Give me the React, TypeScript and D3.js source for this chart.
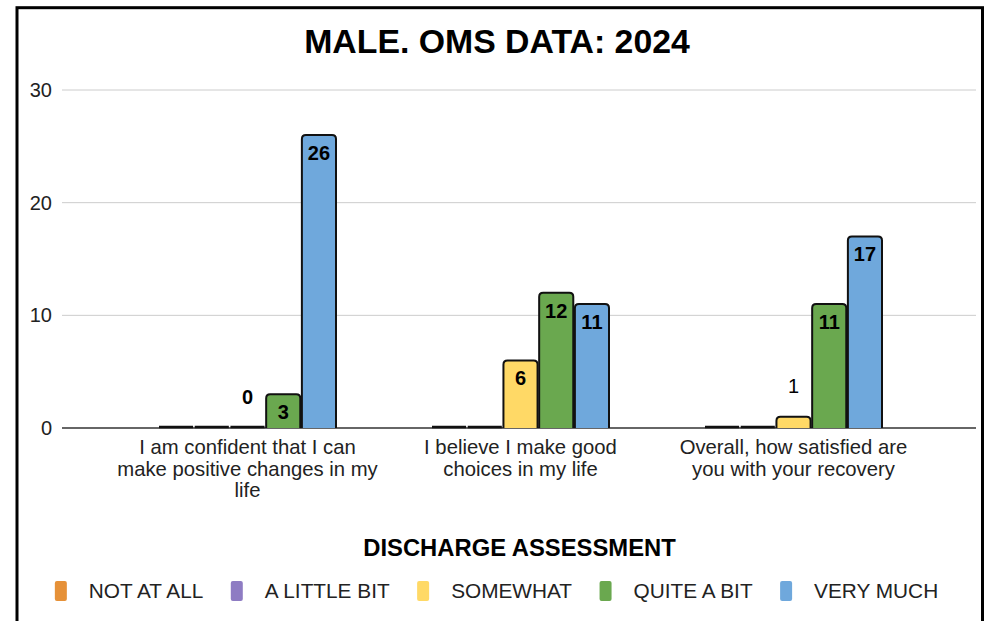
import React, { useEffect, useRef } from "react";
import * as d3 from "d3";

const title = "MALE. OMS DATA: 2024";
const legendTitle = "DISCHARGE ASSESSMENT";
const categories = [
  ["I am confident that I can", "make positive changes in my", "life"],
  ["I believe I make good", "choices in my life"],
  ["Overall, how satisfied are", "you with your recovery"],
];
const seriesNames = ["NOT AT ALL", "A LITTLE BIT", "SOMEWHAT", "QUITE A BIT", "VERY MUCH"];
const seriesColors = ["#E69138", "#8E7CC3", "#FFD966", "#6AA84F", "#6FA8DC"];
const notAtAll = [0, 0, 0];
const aLittleBit = [0, 0, 0];
const somewhat = [0, 6, 1];
const quiteABit = [3, 12, 11];
const veryMuch = [26, 11, 17];
const seriesValues = [notAtAll, aLittleBit, somewhat, quiteABit, veryMuch];
// which zero values carry a visible label
const zeroLabelShown = [
  [false, false, false],
  [false, false, false],
  [true, false, false],
  [false, false, false],
  [false, false, false],
];
const yTicks = [0, 10, 20, 30];

const W = 984;
const H = 621;
const FONT = "'Liberation Sans', Arial, sans-serif";

export default function App() {
  const ref = useRef<SVGSVGElement>(null);

  useEffect(() => {
    const svg = d3.select(ref.current);
    svg.selectAll("*").remove();

    svg.append("rect").attr("width", W).attr("height", H).attr("fill", "#fff");

    // frame
    svg
      .append("rect")
      .attr("x", 17)
      .attr("y", 7.7)
      .attr("width", 965.5)
      .attr("height", 720)
      .attr("fill", "none")
      .attr("stroke", "#000")
      .attr("stroke-width", 3);

    svg
      .append("text")
      .attr("x", 497)
      .attr("y", 53)
      .attr("text-anchor", "middle")
      .attr("font-family", FONT)
      .attr("font-weight", "bold")
      .attr("font-size", 33.8)
      .attr("fill", "#000")
      .text(title);

    const plotLeft = 62;
    const plotRight = 976;
    const y = d3.scaleLinear().domain([0, 30]).range([428, 90]);
    const x0 = d3
      .scaleBand<number>()
      .domain(categories.map((_, i) => i))
      .range([111, 930])
      .padding(0);
    const groupW = 177;
    const x1 = d3
      .scaleBand<number>()
      .domain(seriesNames.map((_, i) => i))
      .range([0, groupW])
      .paddingInner(0.045)
      .paddingOuter(0);

    // gridlines
    const g = svg.append("g");
    yTicks.forEach((t) => {
      g.append("line")
        .attr("x1", plotLeft)
        .attr("x2", plotRight)
        .attr("y1", y(t))
        .attr("y2", y(t))
        .attr("stroke", t === 0 ? "#333" : "#ccc")
        .attr("stroke-width", t === 0 ? 1.5 : 1);
      g.append("text")
        .attr("x", 52)
        .attr("y", y(t) + 7)
        .attr("text-anchor", "end")
        .attr("font-family", FONT)
        .attr("font-size", 20)
        .attr("fill", "#222")
        .text(String(t));
    });

    // bars
    const r = 4;
    seriesValues.forEach((vals, s) => {
      vals.forEach((v, c) => {
        const cx = (x0(c) as number) + x0.bandwidth() / 2;
        const bx = cx - groupW / 2 + (x1(s) as number);
        const bw = x1.bandwidth();
        const top = y(v);
        const base = y(0);
        if (v === 0) {
          svg
            .append("line")
            .attr("x1", bx)
            .attr("x2", bx + bw)
            .attr("y1", base - 1)
            .attr("y2", base - 1)
            .attr("stroke", "#111")
            .attr("stroke-width", 2.5);
        } else {
          const p = d3.path();
          const rr = Math.min(r, base - top);
          p.moveTo(bx, base);
          p.lineTo(bx, top + rr);
          p.quadraticCurveTo(bx, top, bx + rr, top);
          p.lineTo(bx + bw - rr, top);
          p.quadraticCurveTo(bx + bw, top, bx + bw, top + rr);
          p.lineTo(bx + bw, base);
          svg
            .append("path")
            .attr("d", p.toString())
            .attr("fill", seriesColors[s])
            .attr("stroke", "#111")
            .attr("stroke-width", 2);
        }
        const inside = base - top > 30;
        const show = v > 0 || zeroLabelShown[s][c];
        if (show) {
          svg
            .append("text")
            .attr("x", bx + bw / 2)
            .attr("y", inside ? top + 25 : top - 24)
            .attr("text-anchor", "middle")
            .attr("font-family", FONT)
            .attr("font-weight", v === 1 ? "normal" : "bold")
            .attr("font-size", 20)
            .attr("fill", "#000")
            .text(String(v));
        }
      });
    });

    // category labels
    categories.forEach((lines, c) => {
      const cx = (x0(c) as number) + x0.bandwidth() / 2;
      lines.forEach((ln, i) => {
        svg
          .append("text")
          .attr("x", cx)
          .attr("y", 454 + i * 21.5)
          .attr("text-anchor", "middle")
          .attr("font-family", FONT)
          .attr("font-size", 20.3)
          .attr("fill", "#222")
          .text(ln);
      });
    });

    svg
      .append("text")
      .attr("x", 519.5)
      .attr("y", 556)
      .attr("text-anchor", "middle")
      .attr("font-family", FONT)
      .attr("font-weight", "bold")
      .attr("font-size", 23.8)
      .attr("fill", "#000")
      .text(legendTitle);

    // legend
    const lg = svg.append("g");
    const items = seriesNames.map((name, i) => {
      const it = lg.append("g");
      it.append("rect")
        .attr("x", 0)
        .attr("y", 581)
        .attr("width", 12)
        .attr("height", 20)
        .attr("rx", 2)
        .attr("fill", seriesColors[i]);
      const t = it
        .append("text")
        .attr("x", 34)
        .attr("y", 598)
        .attr("font-family", FONT)
        .attr("font-size", 20.8)
        .attr("fill", "#222")
        .text(name);
      const w = (t.node() as SVGTextElement).getComputedTextLength();
      return { it, w: 34 + w };
    });
    const gap = 27.5;
    const total = d3.sum(items, (d) => d.w) + gap * (items.length - 1);
    let cur = 496.5 - total / 2;
    items.forEach((d) => {
      d.it.attr("transform", `translate(${cur},0)`);
      cur += d.w + gap;
    });
  }, []);

  return (
    <svg
      ref={ref}
      width={W}
      height={H}
      style={{ position: "absolute", left: 0, top: 0, display: "block" }}
    />
  );
}
